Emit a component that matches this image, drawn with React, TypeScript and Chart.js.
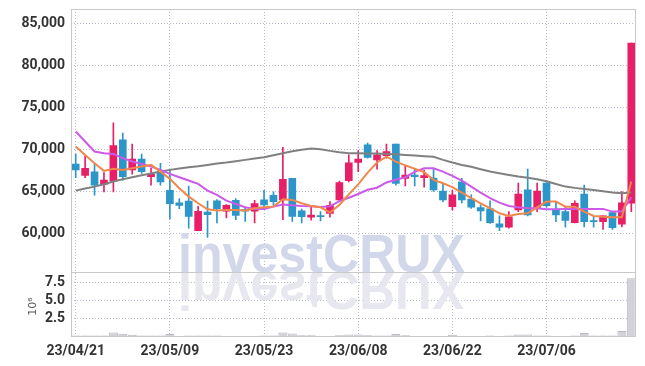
import React, { useEffect, useRef } from 'react';
import { Chart, registerables } from 'chart.js';
Chart.register(...registerables);

const dates = [
  '23/04/21','23/04/24','23/04/25','23/04/26','23/04/27','23/04/28',
  '23/05/02','23/05/03','23/05/04','23/05/08','23/05/09','23/05/10','23/05/11','23/05/12',
  '23/05/15','23/05/16','23/05/17','23/05/18','23/05/19','23/05/22','23/05/23','23/05/24',
  '23/05/25','23/05/26','23/05/30','23/05/31','23/06/01','23/06/02','23/06/05','23/06/07',
  '23/06/08','23/06/09','23/06/12','23/06/13','23/06/14','23/06/15','23/06/16','23/06/19',
  '23/06/20','23/06/21','23/06/22','23/06/23','23/06/26','23/06/27','23/06/28','23/06/29',
  '23/06/30','23/07/03','23/07/04','23/07/05','23/07/06','23/07/07','23/07/10','23/07/11',
  '23/07/12','23/07/13','23/07/14','23/07/17','23/07/18','23/07/19'
];

const opens = [68300,66950,67400,65900,66300,71200,67600,68900,66800,67400,65200,63700,63900,60400,62600,63950,62700,64000,62900,62700,64050,64600,64050,66600,62750,62000,62200,62450,64050,66350,68500,70600,68800,69300,70700,66600,67000,66700,66650,65100,63250,66200,64150,63150,63000,61200,60800,62850,65250,63150,66050,62800,62650,61350,64750,61600,61450,62550,61150,63650];
const highs = [69500,69300,68300,67300,73200,72000,70700,69500,67800,68400,67600,64200,65700,63300,63900,64100,63500,64200,63200,64000,65200,65000,70300,66600,62950,63250,62650,63850,66300,69400,69900,70800,69900,70700,70700,68200,67700,67600,67800,65950,65200,66600,64650,63450,63950,62150,62650,66050,67700,66050,66100,63850,63200,63950,65800,62050,62150,62650,65050,82700];
const lows = [66700,66700,64600,65000,65000,66400,67100,67200,65800,65800,61800,63000,60700,60400,59600,61300,61900,61700,61500,61300,62900,63400,61700,61500,61300,61650,61550,62000,63850,66200,67400,69000,67700,69000,65800,65700,65700,65550,65050,63850,62850,63700,63050,61550,61250,60400,60700,62650,62150,62650,63200,61450,60800,61300,60850,60800,60550,60550,60850,62650];
const closes = [67600,67800,65800,66400,70500,66800,68900,67400,67100,66200,63600,63400,62100,62700,62300,63000,63400,62200,62700,63600,63450,63850,66500,62100,62050,62250,62050,63400,66100,68450,68900,69100,69400,69800,66000,67000,66800,66950,65250,64050,64650,64050,63200,62750,61350,60800,62050,64750,62250,65100,63350,62250,61600,63650,61450,61450,62150,60750,63700,82700];

const ma5 = [70390,69400,68410,67500,67740,67620,67820,68010,68210,67420,66550,65440,64440,63650,62940,62780,62860,62860,62780,63060,63170,63250,64130,64050,63650,63330,63170,62540,63450,64700,65900,67300,68500,69200,68600,68150,67750,67350,66430,66030,65560,64920,64250,63650,63060,62460,62140,62380,62460,63170,63850,63850,63250,63250,62660,62140,62060,61980,61980,66230];
const ma10 = [72180,70990,69800,69600,69520,69010,68610,68330,68010,67620,67140,66750,66350,65950,65160,64640,63970,63570,63170,62980,62980,63250,63500,63400,63330,63300,63200,63280,63900,64300,64750,65250,65500,66120,66450,66750,67380,67820,67800,67420,66900,66350,65630,64920,64250,63730,63330,63170,63060,63060,62940,62940,62980,62980,62980,62980,62980,62660,62660,64360];
const ma60 = [65150,65400,65630,65910,66230,66510,66750,66980,67180,67420,67620,67780,67940,68060,68210,68370,68490,68650,68810,68970,69130,69370,69600,69840,70000,70160,70080,69880,69720,69600,69600,69560,69560,69520,69480,69400,69330,69250,69170,68810,68490,68210,67980,67700,67420,67220,67020,66820,66670,66510,66270,65950,65630,65480,65360,65240,65080,64920,64840,64920];
const volumes = [0.2,0.2,0.2,0.2,0.64,0.45,0.3,0.2,0.2,0.2,0.4,0.08,0.2,0.2,0.2,0.2,0.08,0.08,0.08,0.08,0.2,0.2,0.64,0.5,0.25,0.25,0.1,0.1,0.25,0.35,0.35,0.25,0.2,0.2,0.4,0.25,0.15,0.15,0.15,0.15,0.3,0.15,0.1,0.1,0.2,0.1,0.2,0.35,0.35,0.2,0.2,0.15,0.15,0.2,0.55,0.2,0.2,0.2,0.82,8.14];

const priceTicks = [60000, 65000, 70000, 75000, 80000, 85000];
const volumeTicks = [2.5, 5.0, 7.5];

const UP = 'rgb(232,30,102)';
const DOWN = 'rgb(44,150,200)';
const GRID = 'rgba(175,180,205,0.9)';
const DASH = [1, 2];
const TICK_FONT = { family: "Roboto, 'Liberation Sans', sans-serif", size: 14, weight: 'bold' };

export default function App() {
  const ref = useRef<HTMLCanvasElement>(null);
  useEffect(() => {
    document.body.style.margin = '0';
    const canvas = ref.current!;
    const colors = opens.map((o, i) => (closes[i] >= o ? UP : DOWN));

    const watermark = {
      id: 'watermark',
      beforeDatasetsDraw(chart: any) {
        const { ctx, chartArea } = chart;
        const y = chart.scales.y;
        const yv = chart.scales.yv;
        const base = y.bottom;
        const text = 'investCRUX';
        ctx.save();
        ctx.font = "bold 54px 'Liberation Sans', Arial, sans-serif";
        const w = ctx.measureText(text).width;
        const sx = 287 / w;
        ctx.save();
        ctx.beginPath();
        ctx.rect(chartArea.left, y.top, chartArea.right - chartArea.left, y.bottom - y.top);
        ctx.clip();
        ctx.translate(178, base);
        ctx.scale(sx, 1);
        ctx.fillStyle = '#d2d7ea';
        ctx.fillText(text, 0, 0);
        ctx.restore();
        ctx.save();
        ctx.beginPath();
        ctx.rect(chartArea.left, yv.top, chartArea.right - chartArea.left, yv.bottom - yv.top);
        ctx.clip();
        ctx.translate(178, base);
        ctx.scale(sx, -1);
        ctx.fillStyle = '#e7e7ef';
        ctx.fillText(text, 0, 0);
        ctx.restore();
        ctx.restore();
      },
      afterDraw(chart: any) {
        const { ctx, chartArea } = chart;
        const y = chart.scales.y;
        const yv = chart.scales.yv;
        ctx.save();
        ctx.strokeStyle = '#c9c9c9';
        ctx.lineWidth = 1;
        const l = Math.round(chartArea.left) + 0.5;
        const r = Math.round(chartArea.right) - 0.5;
        ctx.strokeRect(l, Math.round(y.top) + 0.5, r - l, Math.round(y.bottom) - Math.round(y.top));
        ctx.strokeRect(l, Math.round(yv.top) + 0.5, r - l, Math.round(yv.bottom) - Math.round(yv.top) - 1);
        ctx.translate(33, (yv.top + yv.bottom) / 2 + 2);
        ctx.rotate(-Math.PI / 2);
        ctx.fillStyle = '#555';
        ctx.font = "11px 'DejaVu Sans', sans-serif";
        ctx.textAlign = 'center';
        ctx.textBaseline = 'middle';
        ctx.fillText('10\u2076', 0, 0);
        ctx.restore();
      },
    };

    const chart = new Chart(canvas, {
      type: 'bar',
      data: {
        labels: dates,
        datasets: [
          { type: 'line', label: 'MA5', data: ma5, borderColor: '#f0874c', borderWidth: 2, pointRadius: 0, yAxisID: 'y', order: 0 } as any,
          { type: 'line', label: 'MA10', data: ma10, borderColor: '#cc5ae8', borderWidth: 2, pointRadius: 0, yAxisID: 'y', order: 0 } as any,
          { type: 'line', label: 'MA60', data: ma60, borderColor: '#808080', borderWidth: 2, pointRadius: 0, yAxisID: 'y', order: 0 } as any,
          { label: 'wick', data: lows.map((l, i) => [l, highs[i]]), backgroundColor: colors, barThickness: 1, grouped: false, yAxisID: 'y', order: 2 } as any,
          { label: 'body', data: opens.map((o, i) => [o, closes[i]]), backgroundColor: colors, barThickness: 7, grouped: false, yAxisID: 'y', order: 1 } as any,
          { label: 'volume', data: volumes, backgroundColor: 'rgba(208,208,214,0.95)', borderColor: '#b9b9c2', borderWidth: 1, barPercentage: 0.96, categoryPercentage: 1, grouped: false, yAxisID: 'yv', order: 3 } as any,
        ],
      },
      options: {
        animation: false,
        responsive: true,
        maintainAspectRatio: false,
        layout: { padding: { top: 9, right: 9, left: 0, bottom: 0 } },
        plugins: { legend: { display: false }, tooltip: { enabled: false } },
        scales: {
          x: {
            type: 'category',
            offset: true,
            grid: { offset: false, color: GRID, drawTicks: false } as any,
            border: { display: false, dash: DASH },
            ticks: {
              autoSkip: false,
              maxRotation: 0,
              padding: 6,
              color: '#333',
              font: TICK_FONT,
              callback: (_v: any, i: number) => (i % 10 === 0 ? dates[i] : null),
            },
            afterFit: (s: any) => { s.height = 29; s.paddingLeft = 0; s.paddingRight = 0; },
          },
          yv: {
            type: 'linear',
            position: 'left',
            stack: 'main',
            stackWeight: 1,
            weight: 0,
            min: 0,
            max: 8.97,
            grid: { color: GRID, drawTicks: false },
            border: { display: false, dash: DASH },
            ticks: {
              autoSkip: false,
              padding: 6,
              color: '#333',
              font: TICK_FONT,
              callback: (v: any) => Number(v).toFixed(1),
            },
            afterBuildTicks: (s: any) => { s.ticks = volumeTicks.map((v) => ({ value: v })); },
            afterFit: (s: any) => { s.width = 71; s.paddingTop = 0; s.paddingBottom = 0; },
          },
          y: {
            type: 'linear',
            position: 'left',
            stack: 'main',
            stackWeight: 4.07,
            weight: 1,
            min: 55440,
            max: 86750,
            grid: { color: GRID, drawTicks: false },
            border: { display: false, dash: DASH },
            ticks: {
              autoSkip: false,
              padding: 6,
              color: '#333',
              font: TICK_FONT,
              callback: (v: any) => Number(v).toLocaleString('en-US'),
            },
            afterBuildTicks: (s: any) => { s.ticks = priceTicks.map((v) => ({ value: v })); },
            afterFit: (s: any) => { s.width = 71; s.paddingTop = 0; s.paddingBottom = 0; },
          },
        },
      } as any,
      plugins: [watermark],
    });
    return () => chart.destroy();
  }, []);
  return (
    <div style={{ width: 645, height: 366, position: 'relative' }}>
      <canvas ref={ref} />
    </div>
  );
}
